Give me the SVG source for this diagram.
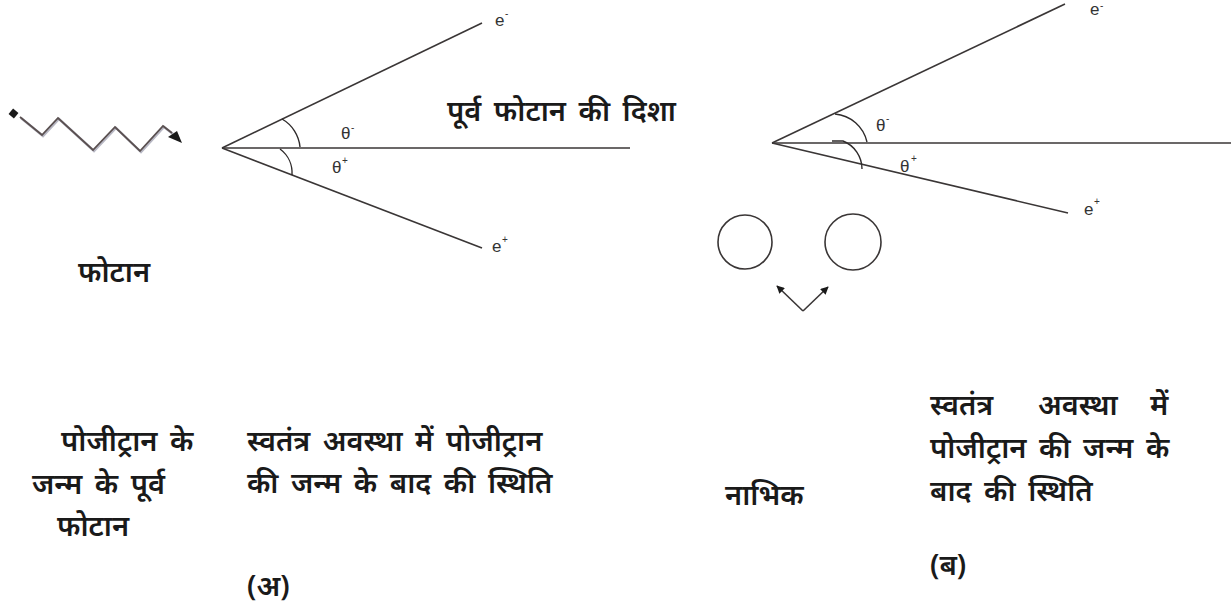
<svg xmlns="http://www.w3.org/2000/svg" width="1231" height="605" viewBox="0 0 1231 605">
<style>
.ln{stroke:#3a3636;stroke-width:1.6;fill:none}
.arc{stroke:#2f2b2b;stroke-width:1.4;fill:none}
.dv{font-family:"Noto Sans","Noto Sans Devanagari","Lohit Devanagari",sans-serif;font-size:29px;font-weight:600;fill:#1a1a1a;word-spacing:5px}
.gr{font-family:"Liberation Sans",Arial,sans-serif;font-size:17px;fill:#333}
.sup{font-family:"Liberation Sans",Arial,sans-serif;font-size:10px;fill:#333}
</style>
<defs>
<marker id="ah" viewBox="0 0 10 10" refX="9" refY="5" markerWidth="5" markerHeight="5" orient="auto" markerUnits="strokeWidth">
<path d="M0,0 L10,5 L0,10 Z" fill="#1a1a1a"/>
</marker>
</defs>
<rect width="1231" height="605" fill="#fff"/>

<g id="photon">
<polyline points="20,117 42,135 58,118 93,150 115,127 140,151 163,126 172,133" stroke="#b8b8c4" stroke-width="2.4" fill="none" transform="translate(1,1)"/>
<polyline points="20,117 42,135 58,118 93,150 115,127 140,151 163,126 172,133" stroke="#5a5050" stroke-width="1.8" fill="none"/>
<rect x="10" y="110" width="7" height="7" fill="#1a1a1a" transform="rotate(40 13.5 113.5)"/>
<path d="M168,137 L177,131 L182,143 Z" fill="#1a1a1a"/>
</g>

<g id="connectors">
<line class="ln" x1="222" y1="148" x2="630" y2="148"/>
<line class="ln" x1="222" y1="148" x2="482" y2="23"/>
<line class="ln" x1="222" y1="148" x2="482" y2="248"/>
<path class="arc" d="M282,119 A36,36 0 0 1 300,147"/>
<path class="arc" d="M280,149 A30,30 0 0 1 292,175"/>

<line class="ln" x1="772" y1="143" x2="1231" y2="143"/>
<line class="ln" x1="772" y1="143" x2="1065" y2="4"/>
<line class="ln" x1="772" y1="143" x2="1068" y2="213"/>
<path class="arc" d="M835,114 A36,36 0 0 1 867,142"/>
<path class="arc" d="M832,141 L843,141 A30,30 0 0 1 862,169"/>

<line class="ln" x1="803" y1="311" x2="777" y2="286" marker-end="url(#ah)"/>
<line class="ln" x1="803" y1="311" x2="828" y2="287" marker-end="url(#ah)"/>
</g>

<g id="nucleus1"><circle cx="745" cy="242" r="27" class="ln"/></g>
<g id="nucleus2"><circle cx="853" cy="242" r="28" class="ln"/></g>

<g id="labels-a">
<text class="gr" x="495" y="26">e</text><text class="sup" x="505" y="17">-</text>
<text class="gr" x="492" y="252">e</text><text class="sup" x="502" y="243">+</text>
<text class="gr" x="341" y="139">θ</text><text class="sup" x="351" y="131">-</text>
<text class="gr" x="332" y="173">θ</text><text class="sup" x="342" y="164">+</text>
<text class="dv" x="447" y="121">पूर्व फोटान की दिशा</text>
<text class="dv" x="78" y="282">फोटान</text>
<text class="dv" x="61" y="451" word-spacing="10">पोजीट्रान के</text>
<text class="dv" x="32" y="494">जन्म के पूर्व</text>
<text class="dv" x="57" y="536">फोटान</text>
<text class="dv" x="247" y="451">स्वतंत्र अवस्था में पोजीट्रान</text>
<text class="dv" x="247" y="493">की जन्म के बाद की स्थिति</text>
<text class="dv" x="247" y="596">(अ)</text>
</g>

<g id="labels-b">
<text class="gr" x="1090" y="15">e</text><text class="sup" x="1100" y="9">-</text>
<text class="gr" x="1084" y="215">e</text><text class="sup" x="1094" y="205">+</text>
<text class="gr" x="876" y="131">θ</text><text class="sup" x="886" y="122">-</text>
<text class="gr" x="900" y="172">θ</text><text class="sup" x="911" y="162">+</text>
<text class="dv" x="725" y="505">नाभिक</text>
<text class="dv" y="415"><tspan x="930">स्वतंत्र</tspan><tspan x="1038">अवस्था</tspan><tspan x="1150">में</tspan></text>
<text class="dv" x="930" y="458" word-spacing="12">पोजीट्रान की जन्म के</text>
<text class="dv" x="930" y="501">बाद की स्थिति</text>
<text class="dv" x="930" y="575">(ब)</text>
</g>
</svg>
